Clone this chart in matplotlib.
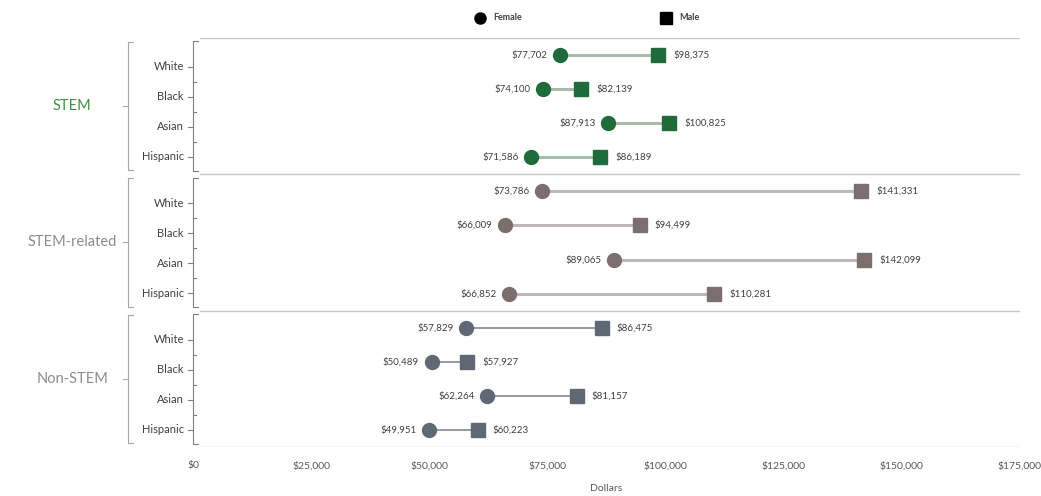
import matplotlib
matplotlib.use("Agg")
import matplotlib.pyplot as plt
from matplotlib.lines import Line2D
from matplotlib.ticker import FuncFormatter

groups = ["STEM", "STEM-related", "Non-STEM"]
races = ["White", "Black", "Asian", "Hispanic"]
female = [
    [77702, 74100, 87913, 71586],
    [73786, 66009, 89065, 66852],
    [57829, 50489, 62264, 49951],
]
male = [
    [98375, 82139, 100825, 86189],
    [141331, 94499, 142099, 110281],
    [86475, 57927, 81157, 60223],
]
x_ticks = [0, 25000, 50000, 75000, 100000, 125000, 150000, 175000]

marker_colors = ["#1f6b3b", "#7b6e6f", "#606873"]
line_colors = ["#a9bcaa", "#bdb7b7", "#8b9097"]
line_widths = [2.2, 2.2, 1.3]
group_text_colors = ["#3f8f3f", "#8c8c8c", "#8c8c8c"]

plt.rcParams["font.family"] = ["Lato", "DejaVu Sans"]

fig = plt.figure(figsize=(10.41, 4.96), dpi=100)
ax = fig.add_axes([0.1854, 0.0988, 0.7944, 0.8246])

for g, name in enumerate(groups):
    for i, race in enumerate(races):
        y = 4 * g + i + 0.5
        f, m = female[g][i], male[g][i]
        ax.plot([f, m], [y, y], color=line_colors[g], lw=line_widths[g], zorder=2)
        ax.plot(f, y, "o", ms=10, color=marker_colors[g], zorder=3)
        ax.plot(m, y, "s", ms=10, color=marker_colors[g], zorder=3)
        ax.annotate(f"${f:,}", (f, y), xytext=(-9, 0), textcoords="offset points",
                    ha="right", va="center", fontsize=7, color="#404040")
        ax.annotate(f"${m:,}", (m, y), xytext=(11, 0), textcoords="offset points",
                    ha="left", va="center", fontsize=7, color="#404040")

    # category axis for this group (bracket with ticks)
    yt = ax.get_yaxis_transform()
    top, bot = 4 * g + 0.1, 4 * g + 3.9
    ax.plot([0.006, 0, 0, 0.006], [top, top, bot, bot], color="#7f7f7f", lw=0.8,
            transform=yt, clip_on=False)
    label_pos = [4 * g + 0.85 + 0.88 * i for i in range(4)]
    for i, race in enumerate(races):
        ax.plot([-0.006, 0], [label_pos[i]] * 2, color="#7f7f7f", lw=0.8,
                transform=yt, clip_on=False)
        ax.text(-0.011, label_pos[i], race, transform=yt, ha="right", va="center",
                fontsize=8, color="#404040")
        if i < 3:
            mid = (label_pos[i] + label_pos[i + 1]) / 2
            ax.plot([0, 0.004], [mid, mid], color="#7f7f7f", lw=0.8,
                    transform=yt, clip_on=False)

    # outer group bracket
    btop, bbot = 4 * g + 0.12, 4 * g + 3.88
    bx = -0.0786
    ax.plot([bx + 0.006, bx, bx, bx + 0.006], [btop, btop, bbot, bbot],
            color="#a6a6a6", lw=0.8, transform=yt, clip_on=False)
    ax.plot([bx - 0.006, bx], [4 * g + 2] * 2, color="#a6a6a6", lw=0.8,
            transform=yt, clip_on=False)
    ax.text(-0.146, 4 * g + 2, name, transform=yt, ha="center", va="center",
            fontsize=10.5, color=group_text_colors[g])

for yb in [0, 4, 8, 12]:
    ax.axhline(yb, xmin=0.008, color="#c8c8c8", lw=1.0, zorder=1)

ax.set_xlim(0, 175000)
ax.set_ylim(12, 0)
ax.set_xticks(x_ticks)
ax.xaxis.set_major_formatter(FuncFormatter(lambda v, p: f"${v:,.0f}"))
ax.tick_params(axis="x", length=0, pad=10, labelsize=7.5, labelcolor="#595959")
ax.set_yticks([])
for s in ax.spines.values():
    s.set_visible(False)
ax.set_xlabel("Dollars", fontsize=7.5, color="#595959", labelpad=10)

# legend
fig.add_artist(Line2D([480 / 1041], [1 - 18 / 496], marker="o", ms=8, color="black",
                      transform=fig.transFigure))
fig.text(493 / 1041, 1 - 18 / 496, "Female", fontsize=6.5, fontweight="bold",
         va="center", color="#404040")
fig.add_artist(Line2D([666 / 1041], [1 - 18 / 496], marker="s", ms=8, color="black",
                      transform=fig.transFigure))
fig.text(679 / 1041, 1 - 18 / 496, "Male", fontsize=6.5, fontweight="bold",
         va="center", color="#404040")

fig.savefig("out.png", dpi=100)
